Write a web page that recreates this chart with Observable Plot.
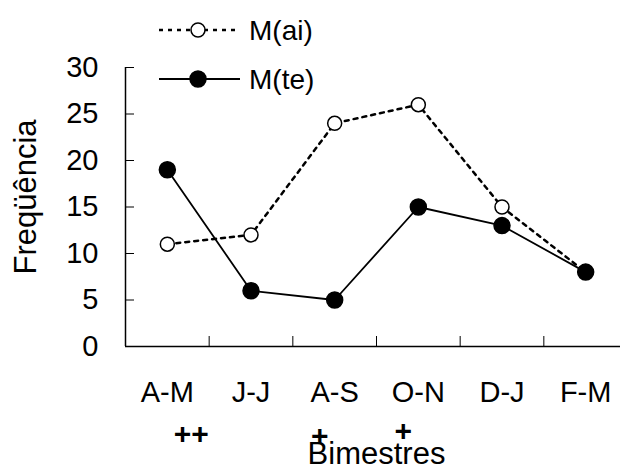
<!DOCTYPE html>
<html><head><meta charset="utf-8">
<script src="https://cdn.jsdelivr.net/npm/d3@7"></script>
<script src="https://cdn.jsdelivr.net/npm/@observablehq/plot@0.6"></script>
<style>
body{margin:0;background:#fff;font-family:Arial,"Liberation Sans",sans-serif}
#wrap{position:relative;width:620px;height:466px;overflow:hidden}
#legend{position:absolute;left:0;top:0;pointer-events:none}
</style>
</head><body><div id="wrap"><div id="chart"></div><svg id="legend" width="620" height="110"></svg></div>
<script>
const categories = ["A-M","J-J","A-S","O-N","D-J","F-M"];
const mAi = [11,12,24,26,15,8];
const mTe = [19,6,5,15,13,8];
const yTicks = [0,5,10,15,20,25,30];
const seriesNames = ["M(ai)","M(te)"];
const significance = [{cat:"A-M", mark:"++"},{cat:"A-S", mark:"+"},{cat:"O-N", mark:"+"}];
const xTitle = "Bimestres";
const yTitle = "Freqüência";

const pos = c => categories.indexOf(c) + 0.5;
const ai = categories.map((c,i)=>({x: pos(c), y: mAi[i]}));
const te = categories.map((c,i)=>({x: pos(c), y: mTe[i]}));
const bounds = d3.range(1, categories.length);
const centers = categories.map(pos);
const font = 'Arial, "Liberation Sans", sans-serif';
const FS = 29;
const sigMark = (cat, dx, dy) => Plot.text(significance.filter(d => d.cat === cat),
  {x: d => pos(d.cat), y: 0, text: "mark", dx, dy, fontSize: 30, fontWeight: 900});

const chart = Plot.plot({
  width: 620, height: 466,
  marginLeft: 125, marginTop: 67, marginBottom: 120, marginRight: -7,
  style: {fontFamily: font, color: "#000", background: "#fff"},
  x: {type: "linear", domain: [0, categories.length]},
  y: {domain: [0, 30]},
  marks: [
    Plot.ruleX([0], {y1: 0, y2: 30, stroke: "#000", strokeWidth: 1.5}),
    Plot.ruleY([0], {stroke: "#000", strokeWidth: 1.5}),
    Plot.axisY({ticks: yTicks, tickSize: -9, tickPadding: 36, fontSize: FS, label: null, strokeWidth: 1}),
    Plot.axisX({ticks: bounds, tickSize: -10, tickFormat: () => "", label: null, strokeWidth: 1}),
    Plot.axisX({ticks: centers, tickSize: 0, tickPadding: 35, fontSize: FS, label: null, tickFormat: d => categories[Math.floor(d)]}),
    Plot.text([xTitle], {frameAnchor: "bottom", lineAnchor: "middle", textAnchor: "middle", dy: 108, fontSize: 31}),
    Plot.text([yTitle], {frameAnchor: "left", textAnchor: "middle", lineAnchor: "middle", dx: -99, dy: -10, rotate: -90, fontSize: 31}),
    sigMark("A-M", 24, 88),
    sigMark("A-S", -15, 90),
    sigMark("O-N", -15, 85),
    Plot.line(ai, {x: "x", y: "y", stroke: "#000", strokeWidth: 2.5, strokeDasharray: "4,5"}),
    Plot.line(te, {x: "x", y: "y", stroke: "#000", strokeWidth: 1.8}),
    Plot.dot(ai, {x: "x", y: "y", r: 7, fill: "#fff", stroke: "#000", strokeWidth: 1.5}),
    Plot.dot(te, {x: "x", y: "y", r: 8, fill: "#000", stroke: "#000"})
  ]
});
document.getElementById("chart").append(chart);

// legend
const lg = d3.select("#legend");
const items = [
  {name: seriesNames[0], y: 30, dash: "4,5", sw: 2.5, fill: "#fff", r: 7},
  {name: seriesNames[1], y: 79, dash: null, sw: 1.8, fill: "#000", r: 8}
];
items.forEach(it => {
  lg.append("line").attr("x1", 159).attr("x2", 240).attr("y1", it.y).attr("y2", it.y)
    .attr("stroke", "#000").attr("stroke-width", it.sw).attr("stroke-dasharray", it.dash);
  lg.append("circle").attr("cx", 198).attr("cy", it.y).attr("r", it.r)
    .attr("fill", it.fill).attr("stroke", "#000").attr("stroke-width", 1.5);
  lg.append("text").attr("x", 249).attr("y", it.y).attr("dy", "0.35em")
    .attr("font-family", font).attr("font-size", 28).text(it.name);
});
</script>
</body></html>
